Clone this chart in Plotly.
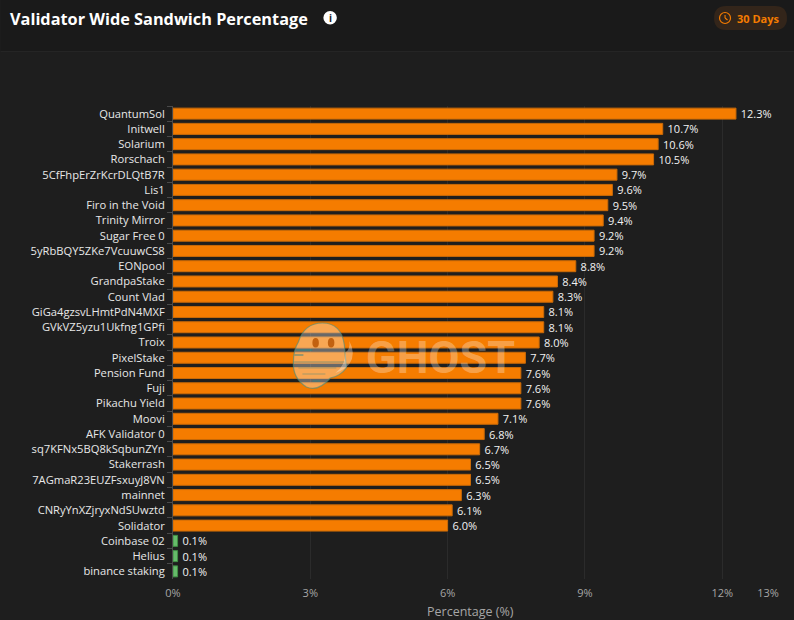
import plotly.graph_objects as go

validators = ["QuantumSol","Initwell","Solarium","Rorschach","5CfFhpErZrKcrDLQtB7R","Lis1","Firo in the Void","Trinity Mirror","Sugar Free 0","5yRbBQY5ZKe7VcuuwCS8","EONpool","GrandpaStake","Count Vlad","GiGa4gzsvLHmtPdN4MXF","GVkVZ5yzu1Ukfng1GPfi","Troix","PixelStake","Pension Fund","Fuji","Pikachu Yield","Moovi","AFK Validator 0","sq7KFNx5BQ8kSqbunZYn","Stakerrash","7AGmaR23EUZFsxuyJ8VN","mainnet","CNRyYnXZjryxNdSUwztd","Solidator","Coinbase 02","Helius","binance staking"]
percentages = [12.3,10.7,10.6,10.5,9.7,9.6,9.5,9.4,9.2,9.2,8.8,8.4,8.3,8.1,8.1,8.0,7.7,7.6,7.6,7.6,7.1,6.8,6.7,6.5,6.5,6.3,6.1,6.0,0.1,0.1,0.1]
tick_values = [0,3,6,9,12,13]
tick_labels = ["0%","3%","6%","9%","12%","13%"]

FONT = "Open Sans"
L, R, T, B = 172.5, 768.0, 106.0, 579.0
def X(p): return (p - L) / (R - L)
def Y(p): return (B - p) / (B - T)

fill = ["#f57c00" if v > 1 else "#66bb6a" for v in percentages]
edge = ["#c96a08" if v > 1 else "#3f8f45" for v in percentages]

fig = go.Figure(go.Bar(
    x=percentages, y=validators, orientation="h",
    marker=dict(color=fill, line=dict(color=edge, width=1)),
    text=[f"\u2009{v:.1f}%" for v in percentages], textposition="outside", cliponaxis=False, constraintext="none",
    textfont=dict(color="#f2f2f2", size=11, family=FONT), hoverinfo="skip",
))

def rect(x0, y0, x1, y1, **kw):
    return dict(type="rect", xref="paper", yref="paper", x0=X(x0), x1=X(x1), y0=Y(y0), y1=Y(y1), **kw)
def circ(x0, y0, x1, y1, **kw):
    return dict(type="circle", xref="paper", yref="paper", x0=X(x0), x1=X(x1), y0=Y(y0), y1=Y(y1), **kw)
def seg(x0, y0, x1, y1, color, width=1, layer="above"):
    return dict(type="line", xref="paper", yref="paper", x0=X(x0), x1=X(x1), y0=Y(y0), y1=Y(y1),
                line=dict(color=color, width=width), layer=layer)
def pathshape(pts, **kw):
    d = ""
    for cmd, *xy in pts:
        d += cmd + " " + " ".join(f"{X(xy[i]):.5f} {Y(xy[i+1]):.5f}" for i in range(0, len(xy), 2)) + " "
    return dict(type="path", xref="paper", yref="paper", layer="above", path=d + "Z", **kw)

none = dict(width=0)
wm = "rgba(255,255,255,0.33)"
teal = "rgba(50,130,130,0.62)"
shapes = [
    rect(0, 0, 794, 51, fillcolor="#1a1a1a", line=none, layer="below"),
    seg(0, 51.5, 794, 51.5, "#252525", 1, "below"),
    # 30 Days pill
    pathshape([("M",726,6),("L",775,6),("Q",787,6,787,18),("Q",787,30,775,30),("L",726,30),("Q",714,30,714,18),("Q",714,6,726,6)],
              fillcolor="#33251a", line=none),
    circ(719.5, 12.5, 730.5, 23.5, line=dict(color="#f57c00", width=1.2)),
    seg(725, 15, 725, 18, "#f57c00", 1.1),
    seg(725, 18, 727.5, 20, "#f57c00", 1.1),
    # info icon
    circ(323, 11, 336.5, 24.5, fillcolor="#ffffff", line=none),
    # watermark: ghost body, wings, eyes and speed stripes
    pathshape([("M",322,323),("Q",341,323,344,345),("L",346,368),("Q",340,376,330,378),("Q",318,392,306,387),
               ("Q",292,378,293,362),("Q",293,350,298,342),("Q",304,323,322,323)],
              fillcolor=wm, line=dict(color="rgba(70,140,125,0.6)", width=1.2)),
    pathshape([("M",345,352),("Q",350,350,349,341),("Q",356,354,349,364),("Q",344,370,335,373),("Q",345,366,345,352)],
              fillcolor=wm, line=none),
    circ(312, 338, 318.5, 347.5, fillcolor="rgba(185,85,5,0.85)", line=none),
    circ(327.5, 338, 334, 347.5, fillcolor="rgba(185,85,5,0.85)", line=none),
    seg(296, 350, 312, 350, teal, 2),
    seg(294, 355, 303, 355, teal, 1.5),
    seg(293, 362, 344, 362, "rgba(50,130,130,0.35)", 1.5),
    seg(298, 368, 336, 368, "rgba(50,130,130,0.35)", 1.2),
    seg(302, 374, 325, 374, "rgba(50,130,130,0.35)", 1.2),
    seg(312, 381, 320, 381, teal, 1.5),
]

annotations = [
    dict(text="<b>Validator Wide Sandwich Percentage</b>", xref="paper", yref="paper", x=X(7.5), y=Y(19),
         xanchor="left", yanchor="middle", showarrow=False, font=dict(size=16.3, color="#ffffff", family=FONT)),
    dict(text="<b>i</b>", xref="paper", yref="paper", x=X(329.7), y=Y(17.5), xanchor="center", yanchor="middle",
         showarrow=False, font=dict(size=10, color="#1a1a1a", family=FONT)),
    dict(text="<b>30 Days</b>", xref="paper", yref="paper", x=X(734.5), y=Y(18.5), xanchor="left", yanchor="middle",
         showarrow=False, font=dict(size=11, color="#f57c00", family=FONT)),
    dict(text="<b>GHOST</b>", xref="paper", yref="paper", x=X(364), y=Y(357), xanchor="left", yanchor="middle",
         showarrow=False, font=dict(size=45, color="rgba(255,255,255,0.3)", family="Roboto")),
    dict(text="Percentage (%)", xref="paper", yref="paper", x=X(470.5), y=Y(611.5), xanchor="center", yanchor="middle",
         showarrow=False, font=dict(size=12.5, color="#a6a6a6", family=FONT)),
]

fig.update_layout(
    width=794, height=620, autosize=False,
    margin=dict(l=L, r=794 - R, t=T, b=620 - B, pad=0, autoexpand=False),
    paper_bgcolor="#1e1e1e", plot_bgcolor="#1e1e1e",
    bargap=0.28, showlegend=False, shapes=shapes, annotations=annotations,
    font=dict(family=FONT, color="#a6a6a6", size=11),
    xaxis=dict(range=[0, 13], tickvals=tick_values, ticktext=tick_labels, showgrid=True, gridcolor="#2b2b2b", gridwidth=1,
               automargin=False, zeroline=False, showline=False, ticks="", ticklabelstandoff=6,
               tickfont=dict(size=11, color="#a6a6a6", family=FONT)),
    yaxis=dict(autorange="reversed", type="category", tickson="boundaries", ticks="outside", ticklen=5, tickcolor="#4a4a4a", tickwidth=1,
               automargin=False, showline=True, linecolor="#4a4a4a", linewidth=1, showgrid=False, zeroline=False, ticklabelstandoff=5,
               tickfont=dict(size=11.2, color="#e8e8e8", family=FONT), dtick=1),
)

fig.write_html("out.html", config=dict(displayModeBar=False),
               post_script="document.body.style.margin='0';document.body.style.background='#1e1e1e';document.documentElement.style.overflow='hidden';")
